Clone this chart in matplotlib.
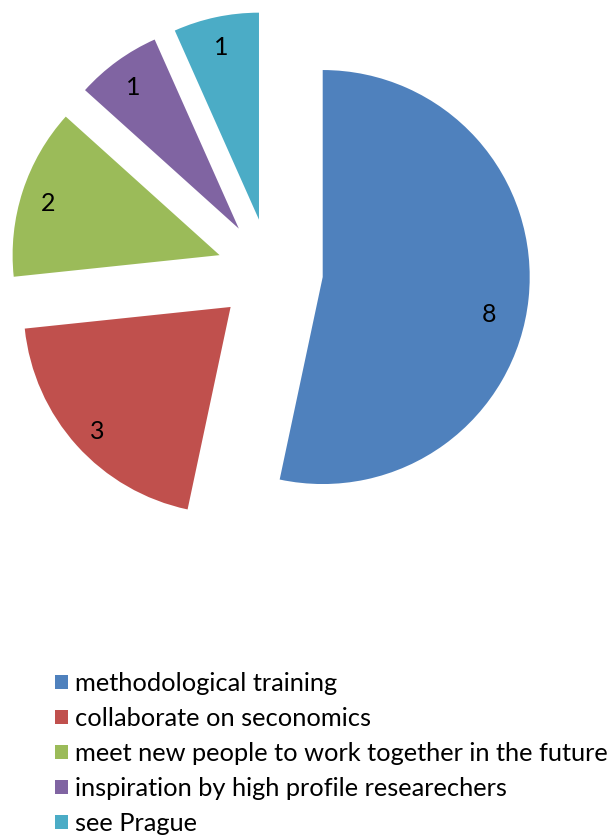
import matplotlib.pyplot as plt

motivos = ["methodological training",
           "collaborate on seconomics",
           "meet new people to work together in the future",
           "inspiration by high profile researechers",
           "see Prague"]
valores = [8, 3, 2, 1, 1]
cores = ["#4F81BD", "#C0504D", "#9BBB59", "#8064A2", "#4BACC6"]

plt.rcParams['font.family'] = ['Lato', 'DejaVu Sans']

W, H = 611, 835
fig = plt.figure(figsize=(W / 100, H / 100), dpi=100)

# pie: centre (270, 271) px from top-left, radius 207 px
raio = 207
L = 1.4
lado = 2 * L * raio
cx, cy = 270, H - 271.5
ax = fig.add_axes([(cx - lado / 2) / W, (cy - lado / 2) / H, lado / W, lado / H])

fatias, _, numeros = ax.pie(valores, colors=cores, startangle=90, counterclock=False,
                            explode=[0.256] * len(valores),
                            autopct=lambda p: "%d" % round(p * sum(valores) / 100),
                            pctdistance=0.87,
                            wedgeprops={"linewidth": 0})
for t in numeros:
    t.set_fontsize(18)
    t.set_color("black")
    x, y = t.get_position()
    t.set_position((x, y - 0.02))
# o rótulo da fatia grande fica um pouco mais abaixo
x, y = numeros[0].get_position()
numeros[0].set_position((x - 0.063, y - 0.07))
ax.set_xlim(-L, L)
ax.set_ylim(-L, L)
ax.set_aspect("equal")

fig.legend(fatias, motivos, loc="upper left",
           bbox_to_anchor=(55 / W, (H - 672) / H),
           frameon=False, fontsize=18.3,
           handlelength=0.5, handleheight=0.5, handletextpad=0.29,
           labelspacing=0.47, borderaxespad=0, borderpad=0)

fig.savefig("out.png", dpi=100)
